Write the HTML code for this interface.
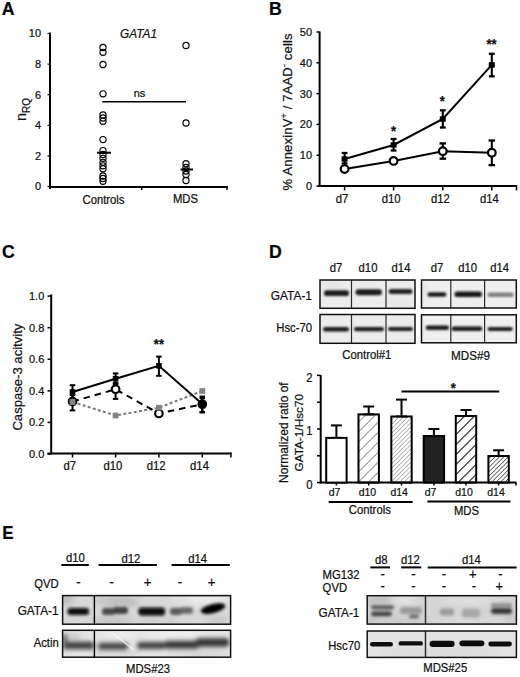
<!DOCTYPE html>
<html><head><meta charset="utf-8"><title>Figure</title>
<style>
html,body{margin:0;padding:0;background:#fff;}
body{width:520px;height:677px;overflow:hidden;}
svg{display:block;font-family:"Liberation Sans", sans-serif;}
text{stroke:#111;stroke-width:0.22px;}
</style></head>
<body>
<svg width="520" height="677" viewBox="0 0 520 677" font-family='"Liberation Sans", sans-serif'>
<rect x="0" y="0" width="520" height="677" fill="#fff"/>
<text transform="translate(1.7 14.6) scale(1 1)" font-size="17.7" text-anchor="start" font-weight="bold" font-style="normal" fill="#000" >A</text>
<line x1="50" y1="32.5" x2="50" y2="189" stroke="#000" stroke-width="2" />
<line x1="49" y1="187" x2="227.5" y2="187" stroke="#000" stroke-width="2" />
<line x1="47.5" y1="186.5" x2="50" y2="186.5" stroke="#000" stroke-width="1.2" />
<text transform="translate(41 190.4) scale(1 1.07)" font-size="11" text-anchor="end" font-weight="normal" font-style="normal" fill="#111" >0</text>
<line x1="47.5" y1="155.9" x2="50" y2="155.9" stroke="#000" stroke-width="1.2" />
<text transform="translate(41 159.8) scale(1 1.07)" font-size="11" text-anchor="end" font-weight="normal" font-style="normal" fill="#111" >2</text>
<line x1="47.5" y1="125.3" x2="50" y2="125.3" stroke="#000" stroke-width="1.2" />
<text transform="translate(41 129.2) scale(1 1.07)" font-size="11" text-anchor="end" font-weight="normal" font-style="normal" fill="#111" >4</text>
<line x1="47.5" y1="94.69999999999999" x2="50" y2="94.69999999999999" stroke="#000" stroke-width="1.2" />
<text transform="translate(41 98.6) scale(1 1.07)" font-size="11" text-anchor="end" font-weight="normal" font-style="normal" fill="#111" >6</text>
<line x1="47.5" y1="64.1" x2="50" y2="64.1" stroke="#000" stroke-width="1.2" />
<text transform="translate(41 68.0) scale(1 1.07)" font-size="11" text-anchor="end" font-weight="normal" font-style="normal" fill="#111" >8</text>
<line x1="47.5" y1="33.5" x2="50" y2="33.5" stroke="#000" stroke-width="1.2" />
<text transform="translate(41 37.4) scale(1 1.07)" font-size="11" text-anchor="end" font-weight="normal" font-style="normal" fill="#111" >10</text>
<line x1="141.75" y1="186" x2="141.75" y2="190" stroke="#000" stroke-width="1.5" />
<line x1="227" y1="186" x2="227" y2="190" stroke="#000" stroke-width="1.5" />
<text transform="translate(138.5 37.8) scale(1 1.07)" font-size="11.8" text-anchor="middle" font-weight="normal" font-style="italic" fill="#111" >GATA1</text>
<g transform="translate(26.2,121) rotate(-90)"><text x="0" y="0" font-size="14.5" fill="#111">n<tspan font-size="10" dy="3.5">RQ</tspan></text></g>
<circle cx="103" cy="47.5" r="3.1" fill="none" stroke="#000" stroke-width="1.15"/>
<circle cx="103" cy="52.3" r="3.1" fill="none" stroke="#000" stroke-width="1.15"/>
<circle cx="103" cy="64.5" r="3.1" fill="none" stroke="#000" stroke-width="1.15"/>
<circle cx="103" cy="93.8" r="3.1" fill="none" stroke="#000" stroke-width="1.15"/>
<circle cx="103" cy="115" r="3.1" fill="none" stroke="#000" stroke-width="1.15"/>
<circle cx="103" cy="118" r="3.1" fill="none" stroke="#000" stroke-width="1.15"/>
<circle cx="103" cy="121.3" r="3.1" fill="none" stroke="#000" stroke-width="1.15"/>
<circle cx="103" cy="139.6" r="3.1" fill="none" stroke="#000" stroke-width="1.15"/>
<circle cx="103" cy="150.6" r="3.1" fill="none" stroke="#000" stroke-width="1.15"/>
<circle cx="103" cy="154.5" r="3.1" fill="none" stroke="#000" stroke-width="1.15"/>
<circle cx="103" cy="158.3" r="3.1" fill="none" stroke="#000" stroke-width="1.15"/>
<circle cx="103" cy="162.3" r="3.1" fill="none" stroke="#000" stroke-width="1.15"/>
<circle cx="103" cy="165.8" r="3.1" fill="none" stroke="#000" stroke-width="1.15"/>
<circle cx="103" cy="168.8" r="3.1" fill="none" stroke="#000" stroke-width="1.15"/>
<circle cx="103" cy="176" r="3.1" fill="none" stroke="#000" stroke-width="1.15"/>
<circle cx="103" cy="178.5" r="3.1" fill="none" stroke="#000" stroke-width="1.15"/>
<circle cx="103" cy="181.3" r="3.1" fill="none" stroke="#000" stroke-width="1.15"/>
<circle cx="186" cy="45.5" r="3.1" fill="none" stroke="#000" stroke-width="1.15"/>
<circle cx="186" cy="123" r="3.1" fill="none" stroke="#000" stroke-width="1.15"/>
<circle cx="186" cy="163.75" r="3.1" fill="none" stroke="#000" stroke-width="1.15"/>
<circle cx="186" cy="167.5" r="3.1" fill="none" stroke="#000" stroke-width="1.15"/>
<circle cx="186" cy="171" r="3.1" fill="none" stroke="#000" stroke-width="1.15"/>
<circle cx="186" cy="174.5" r="3.1" fill="none" stroke="#000" stroke-width="1.15"/>
<circle cx="186" cy="180.5" r="3.1" fill="none" stroke="#000" stroke-width="1.15"/>
<line x1="97" y1="152.7" x2="111" y2="152.7" stroke="#000" stroke-width="2" />
<line x1="180.5" y1="169.5" x2="193" y2="169.5" stroke="#000" stroke-width="2" />
<line x1="102.3" y1="101.8" x2="186" y2="101.8" stroke="#000" stroke-width="1.6" />
<text transform="translate(139.5 97) scale(1 1.07)" font-size="11" text-anchor="middle" font-weight="normal" font-style="normal" fill="#111" >ns</text>
<text transform="translate(103.5 203.5) scale(1 1.07)" font-size="11.3" text-anchor="middle" font-weight="normal" font-style="normal" fill="#111" >Controls</text>
<text transform="translate(185.5 203.3) scale(1 1.07)" font-size="11.3" text-anchor="middle" font-weight="normal" font-style="normal" fill="#111" >MDS</text>
<text transform="translate(269.1 14.6) scale(1 1)" font-size="17.7" text-anchor="start" font-weight="bold" font-style="normal" fill="#000" >B</text>
<line x1="319.6" y1="31.5" x2="319.6" y2="187" stroke="#000" stroke-width="2" />
<line x1="318.6" y1="186" x2="517" y2="186" stroke="#000" stroke-width="2" />
<line x1="316.5" y1="186.0" x2="319.6" y2="186.0" stroke="#000" stroke-width="1.5" />
<text transform="translate(312 189.9) scale(1 1.07)" font-size="11" text-anchor="end" font-weight="normal" font-style="normal" fill="#111" >0</text>
<line x1="316.5" y1="155.2" x2="319.6" y2="155.2" stroke="#000" stroke-width="1.5" />
<text transform="translate(312 159.1) scale(1 1.07)" font-size="11" text-anchor="end" font-weight="normal" font-style="normal" fill="#111" >10</text>
<line x1="316.5" y1="124.4" x2="319.6" y2="124.4" stroke="#000" stroke-width="1.5" />
<text transform="translate(312 128.3) scale(1 1.07)" font-size="11" text-anchor="end" font-weight="normal" font-style="normal" fill="#111" >20</text>
<line x1="316.5" y1="93.6" x2="319.6" y2="93.6" stroke="#000" stroke-width="1.5" />
<text transform="translate(312 97.5) scale(1 1.07)" font-size="11" text-anchor="end" font-weight="normal" font-style="normal" fill="#111" >30</text>
<line x1="316.5" y1="62.8" x2="319.6" y2="62.8" stroke="#000" stroke-width="1.5" />
<text transform="translate(312 66.7) scale(1 1.07)" font-size="11" text-anchor="end" font-weight="normal" font-style="normal" fill="#111" >40</text>
<line x1="316.5" y1="32.0" x2="319.6" y2="32.0" stroke="#000" stroke-width="1.5" />
<text transform="translate(312 35.9) scale(1 1.07)" font-size="11" text-anchor="end" font-weight="normal" font-style="normal" fill="#111" >50</text>
<line x1="344.6" y1="185" x2="344.6" y2="190.5" stroke="#000" stroke-width="1.5" />
<line x1="393.6" y1="185" x2="393.6" y2="190.5" stroke="#000" stroke-width="1.5" />
<line x1="442.8" y1="185" x2="442.8" y2="190.5" stroke="#000" stroke-width="1.5" />
<line x1="491.8" y1="185" x2="491.8" y2="190.5" stroke="#000" stroke-width="1.5" />
<line x1="516.5" y1="185" x2="516.5" y2="190.5" stroke="#000" stroke-width="1.5" />
<text transform="translate(342.1 202.5) scale(1 1.07)" font-size="11.3" text-anchor="middle" font-weight="normal" font-style="normal" fill="#111" >d7</text>
<text transform="translate(391.1 202.5) scale(1 1.07)" font-size="11.3" text-anchor="middle" font-weight="normal" font-style="normal" fill="#111" >d10</text>
<text transform="translate(440.3 202.5) scale(1 1.07)" font-size="11.3" text-anchor="middle" font-weight="normal" font-style="normal" fill="#111" >d12</text>
<text transform="translate(489.3 202.5) scale(1 1.07)" font-size="11.3" text-anchor="middle" font-weight="normal" font-style="normal" fill="#111" >d14</text>
<g transform="translate(292,190.4) rotate(-90)"><text x="0" y="0" font-size="13" fill="#111" textLength="157" lengthAdjust="spacing">% AnnexinV<tspan font-size="8.8" dy="-4.7">+</tspan><tspan dy="4.7"> / 7AAD</tspan><tspan font-size="8.8" dy="-4.7">-</tspan><tspan dy="4.7"> cells</tspan></text></g>
<polyline points="344.6,159 393.6,145 442.8,119 491.8,64.9" fill="none" stroke="#000" stroke-width="2"/>
<polyline points="344.6,169.1 393.6,160.9 442.8,151.2 491.8,152.8" fill="none" stroke="#000" stroke-width="2"/>
<line x1="344.6" y1="153" x2="344.6" y2="163.5" stroke="#000" stroke-width="2.1" />
<line x1="341.70000000000005" y1="153" x2="347.5" y2="153" stroke="#000" stroke-width="2.3" />
<line x1="341.70000000000005" y1="163.5" x2="347.5" y2="163.5" stroke="#000" stroke-width="2.3" />
<line x1="393.6" y1="139" x2="393.6" y2="150.5" stroke="#000" stroke-width="2.1" />
<line x1="390.70000000000005" y1="139" x2="396.5" y2="139" stroke="#000" stroke-width="2.3" />
<line x1="390.70000000000005" y1="150.5" x2="396.5" y2="150.5" stroke="#000" stroke-width="2.3" />
<line x1="442.8" y1="110.3" x2="442.8" y2="127.5" stroke="#000" stroke-width="2.1" />
<line x1="439.90000000000003" y1="110.3" x2="445.7" y2="110.3" stroke="#000" stroke-width="2.3" />
<line x1="439.90000000000003" y1="127.5" x2="445.7" y2="127.5" stroke="#000" stroke-width="2.3" />
<line x1="491.8" y1="53.8" x2="491.8" y2="76.3" stroke="#000" stroke-width="2.1" />
<line x1="488.90000000000003" y1="53.8" x2="494.7" y2="53.8" stroke="#000" stroke-width="2.3" />
<line x1="488.90000000000003" y1="76.3" x2="494.7" y2="76.3" stroke="#000" stroke-width="2.3" />
<line x1="442.8" y1="143.4" x2="442.8" y2="158.7" stroke="#000" stroke-width="2.1" />
<line x1="439.55" y1="143.4" x2="446.05" y2="143.4" stroke="#000" stroke-width="2.3" />
<line x1="439.55" y1="158.7" x2="446.05" y2="158.7" stroke="#000" stroke-width="2.3" />
<line x1="491.8" y1="140.5" x2="491.8" y2="165.1" stroke="#000" stroke-width="2.1" />
<line x1="488.55" y1="140.5" x2="495.05" y2="140.5" stroke="#000" stroke-width="2.3" />
<line x1="488.55" y1="165.1" x2="495.05" y2="165.1" stroke="#000" stroke-width="2.3" />
<rect x="341.6" y="156.3" width="6" height="5.4" fill="#000" stroke="none" stroke-width="0" />
<rect x="390.6" y="142.3" width="6" height="5.4" fill="#000" stroke="none" stroke-width="0" />
<rect x="439.8" y="116.3" width="6" height="5.4" fill="#000" stroke="none" stroke-width="0" />
<rect x="488.8" y="62.2" width="6" height="5.4" fill="#000" stroke="none" stroke-width="0" />
<circle cx="344.6" cy="169.1" r="3.85" fill="#fff" stroke="#000" stroke-width="2.2"/>
<circle cx="393.6" cy="160.9" r="3.85" fill="#fff" stroke="#000" stroke-width="2.2"/>
<circle cx="442.8" cy="151.2" r="3.85" fill="#fff" stroke="#000" stroke-width="2.2"/>
<circle cx="491.8" cy="152.8" r="3.85" fill="#fff" stroke="#000" stroke-width="2.2"/>
<text transform="translate(393.5 136.28) scale(1 1.07)" font-size="13" text-anchor="middle" font-weight="bold" font-style="normal" fill="#111" >*</text>
<text transform="translate(442.3 105.68) scale(1 1.07)" font-size="13" text-anchor="middle" font-weight="bold" font-style="normal" fill="#111" >*</text>
<text transform="translate(491.5 48.88) scale(1 1.07)" font-size="13" text-anchor="middle" font-weight="bold" font-style="normal" fill="#111" >**</text>
<text transform="translate(1.9 258.3) scale(1 1)" font-size="17.7" text-anchor="start" font-weight="bold" font-style="normal" fill="#000" >C</text>
<line x1="51.2" y1="294.5" x2="51.2" y2="454.5" stroke="#000" stroke-width="2" />
<line x1="47.5" y1="453.4" x2="231.5" y2="453.4" stroke="#000" stroke-width="2" />
<line x1="47.5" y1="454.0" x2="51.2" y2="454.0" stroke="#000" stroke-width="1.5" />
<text transform="translate(44.3 457.9) scale(1 1.07)" font-size="11" text-anchor="end" font-weight="normal" font-style="normal" fill="#111" >0.0</text>
<line x1="47.5" y1="422.42" x2="51.2" y2="422.42" stroke="#000" stroke-width="1.5" />
<text transform="translate(44.3 426.32) scale(1 1.07)" font-size="11" text-anchor="end" font-weight="normal" font-style="normal" fill="#111" >0.2</text>
<line x1="47.5" y1="390.84" x2="51.2" y2="390.84" stroke="#000" stroke-width="1.5" />
<text transform="translate(44.3 394.73999999999995) scale(1 1.07)" font-size="11" text-anchor="end" font-weight="normal" font-style="normal" fill="#111" >0.4</text>
<line x1="47.5" y1="359.26" x2="51.2" y2="359.26" stroke="#000" stroke-width="1.5" />
<text transform="translate(44.3 363.15999999999997) scale(1 1.07)" font-size="11" text-anchor="end" font-weight="normal" font-style="normal" fill="#111" >0.6</text>
<line x1="47.5" y1="327.68" x2="51.2" y2="327.68" stroke="#000" stroke-width="1.5" />
<text transform="translate(44.3 331.58) scale(1 1.07)" font-size="11" text-anchor="end" font-weight="normal" font-style="normal" fill="#111" >0.8</text>
<line x1="47.5" y1="296.1" x2="51.2" y2="296.1" stroke="#000" stroke-width="1.5" />
<text transform="translate(44.3 300.0) scale(1 1.07)" font-size="11" text-anchor="end" font-weight="normal" font-style="normal" fill="#111" >1.0</text>
<line x1="72.5" y1="452.5" x2="72.5" y2="457.5" stroke="#000" stroke-width="1.5" />
<line x1="115.6" y1="452.5" x2="115.6" y2="457.5" stroke="#000" stroke-width="1.5" />
<line x1="158.9" y1="452.5" x2="158.9" y2="457.5" stroke="#000" stroke-width="1.5" />
<line x1="202.3" y1="452.5" x2="202.3" y2="457.5" stroke="#000" stroke-width="1.5" />
<line x1="230.9" y1="452.5" x2="230.9" y2="457.5" stroke="#000" stroke-width="1.5" />
<text transform="translate(69.7 470.2) scale(1 1.07)" font-size="11.3" text-anchor="middle" font-weight="normal" font-style="normal" fill="#111" >d7</text>
<text transform="translate(112.8 470.2) scale(1 1.07)" font-size="11.3" text-anchor="middle" font-weight="normal" font-style="normal" fill="#111" >d10</text>
<text transform="translate(156.1 470.2) scale(1 1.07)" font-size="11.3" text-anchor="middle" font-weight="normal" font-style="normal" fill="#111" >d12</text>
<text transform="translate(199.5 470.2) scale(1 1.07)" font-size="11.3" text-anchor="middle" font-weight="normal" font-style="normal" fill="#111" >d14</text>
<g transform="translate(21.6,430.6) rotate(-90)"><text x="0" y="0" font-size="13.3" fill="#111" textLength="107" lengthAdjust="spacingAndGlyphs">Caspase-3 acitvity</text></g>
<polyline points="72.5,402 115.6,415.5 158.9,407.7 202.3,391" fill="none" stroke="#777" stroke-width="2" stroke-dasharray="3 2.3"/>
<polyline points="72.5,401.5 115.6,389.3 158.9,413.5 202.3,404.2" fill="none" stroke="#000" stroke-width="2" stroke-dasharray="6.5 5"/>
<polyline points="72.5,392 115.6,378.7 158.9,365.8 202.3,404" fill="none" stroke="#000" stroke-width="2"/>
<line x1="72.5" y1="385.2" x2="72.5" y2="399" stroke="#000" stroke-width="2" />
<line x1="69.75" y1="385.2" x2="75.25" y2="385.2" stroke="#000" stroke-width="2" />
<line x1="69.75" y1="399" x2="75.25" y2="399" stroke="#000" stroke-width="2" />
<line x1="115.6" y1="373.4" x2="115.6" y2="384" stroke="#000" stroke-width="2" />
<line x1="112.85" y1="373.4" x2="118.35" y2="373.4" stroke="#000" stroke-width="2" />
<line x1="112.85" y1="384" x2="118.35" y2="384" stroke="#000" stroke-width="2" />
<line x1="158.9" y1="356.6" x2="158.9" y2="375.8" stroke="#000" stroke-width="2" />
<line x1="156.15" y1="356.6" x2="161.65" y2="356.6" stroke="#000" stroke-width="2" />
<line x1="156.15" y1="375.8" x2="161.65" y2="375.8" stroke="#000" stroke-width="2" />
<line x1="202.3" y1="396.5" x2="202.3" y2="412" stroke="#000" stroke-width="2" />
<line x1="199.55" y1="396.5" x2="205.05" y2="396.5" stroke="#000" stroke-width="2" />
<line x1="199.55" y1="412" x2="205.05" y2="412" stroke="#000" stroke-width="2" />
<line x1="72.5" y1="395" x2="72.5" y2="410.4" stroke="#000" stroke-width="2" />
<line x1="69.75" y1="395" x2="75.25" y2="395" stroke="#000" stroke-width="2" />
<line x1="69.75" y1="410.4" x2="75.25" y2="410.4" stroke="#000" stroke-width="2" />
<line x1="115.6" y1="383" x2="115.6" y2="398.9" stroke="#000" stroke-width="2" />
<line x1="112.85" y1="383" x2="118.35" y2="383" stroke="#000" stroke-width="2" />
<line x1="112.85" y1="398.9" x2="118.35" y2="398.9" stroke="#000" stroke-width="2" />
<line x1="202.3" y1="398" x2="202.3" y2="412.5" stroke="#000" stroke-width="2" />
<line x1="199.55" y1="398" x2="205.05" y2="398" stroke="#000" stroke-width="2" />
<line x1="199.55" y1="412.5" x2="205.05" y2="412.5" stroke="#000" stroke-width="2" />
<rect x="69.7" y="389.2" width="5.6" height="5.6" fill="#000" stroke="none" stroke-width="0" />
<rect x="112.8" y="375.9" width="5.6" height="5.6" fill="#000" stroke="none" stroke-width="0" />
<rect x="156.1" y="363.0" width="5.6" height="5.6" fill="#000" stroke="none" stroke-width="0" />
<rect x="199.5" y="401.2" width="5.6" height="5.6" fill="#000" stroke="none" stroke-width="0" />
<circle cx="72.5" cy="401.5" r="3.8" fill="#8a8a8a" stroke="#000" stroke-width="2.1"/>
<circle cx="115.6" cy="389.3" r="3.8" fill="#fff" stroke="#000" stroke-width="2.1"/>
<circle cx="158.9" cy="413.5" r="3.8" fill="#fff" stroke="#000" stroke-width="2.1"/>
<circle cx="202.3" cy="404.2" r="3.8" fill="#000" stroke="#000" stroke-width="2.1"/>
<rect x="69.6" y="399.1" width="5.8" height="5.8" fill="#848484" stroke="none" stroke-width="0" />
<rect x="112.69999999999999" y="412.6" width="5.8" height="5.8" fill="#848484" stroke="none" stroke-width="0" />
<rect x="156.0" y="404.8" width="5.8" height="5.8" fill="#848484" stroke="none" stroke-width="0" />
<rect x="199.4" y="388.1" width="5.8" height="5.8" fill="#848484" stroke="none" stroke-width="0" />
<text transform="translate(158.9 349.38) scale(1 1.07)" font-size="13" text-anchor="middle" font-weight="bold" font-style="normal" fill="#111" >**</text>
<text transform="translate(269.1 258.1) scale(1 1)" font-size="17.7" text-anchor="start" font-weight="bold" font-style="normal" fill="#000" >D</text>
<defs>
<filter id="b5" x="-20%" y="-50%" width="140%" height="200%"><feGaussianBlur stdDeviation="0.5"/></filter>
<filter id="b7" x="-20%" y="-50%" width="140%" height="200%"><feGaussianBlur stdDeviation="0.7"/></filter>
<filter id="b10" x="-20%" y="-50%" width="140%" height="200%"><feGaussianBlur stdDeviation="1.0"/></filter>
<filter id="b9" x="-20%" y="-50%" width="140%" height="200%"><feGaussianBlur stdDeviation="0.9"/></filter>
<filter id="b15" x="-20%" y="-50%" width="140%" height="200%"><feGaussianBlur stdDeviation="1.5"/></filter>
<filter id="b18" x="-20%" y="-50%" width="140%" height="200%"><feGaussianBlur stdDeviation="1.8"/></filter>
<filter id="b20" x="-20%" y="-50%" width="140%" height="200%"><feGaussianBlur stdDeviation="2.0"/></filter>
<filter id="bb" x="-50%" y="-50%" width="200%" height="200%"><feGaussianBlur stdDeviation="3"/></filter>
</defs>
<clipPath id="cl1"><rect x="320" y="280" width="95" height="28.3"/></clipPath>
<g clip-path="url(#cl1)">
<rect x="318" y="278" width="99" height="32.3" fill="#ececec" stroke="none" stroke-width="0" />
<g filter="url(#bb)">
<ellipse cx="330" cy="284" rx="10" ry="3" fill="#e2e2e2" opacity="1"/>
<ellipse cx="400" cy="304" rx="14" ry="3" fill="#e4e4e4" opacity="1"/>
</g>
<g filter="url(#b10)">
<rect x="324" y="290.3" width="25" height="5.8" rx="2.9" fill="#1c1c1c"/>
<rect x="355.5" y="289.2" width="26.5" height="6" rx="3.0" fill="#1c1c1c"/>
<rect x="388.6" y="288.9" width="23.899999999999977" height="5" rx="2.5" fill="#222"/>
</g></g>
<line x1="351.5" y1="280" x2="351.5" y2="308.3" stroke="#2a2a2a" stroke-width="1.2" />
<line x1="386" y1="280" x2="386" y2="308.3" stroke="#2a2a2a" stroke-width="1.2" />
<rect x="320" y="280" width="95" height="28.3" fill="none" stroke="#111" stroke-width="1.5" />
<clipPath id="cl2"><rect x="320" y="314.5" width="95" height="28.8"/></clipPath>
<g clip-path="url(#cl2)">
<rect x="318" y="312.5" width="99" height="32.8" fill="#ececec" stroke="none" stroke-width="0" />
<g filter="url(#b9)">
<rect x="323" y="327.1" width="26" height="4.4" rx="2.2" fill="#1a1a1a"/>
<rect x="354" y="327.05" width="30" height="4.3" rx="2.15" fill="#1a1a1a"/>
<rect x="388" y="326.95" width="25" height="4.1" rx="2.05" fill="#1e1e1e"/>
</g></g>
<line x1="351.5" y1="314.5" x2="351.5" y2="343.3" stroke="#2a2a2a" stroke-width="1.2" />
<line x1="386" y1="314.5" x2="386" y2="343.3" stroke="#2a2a2a" stroke-width="1.2" />
<rect x="320" y="314.5" width="95" height="28.8" fill="none" stroke="#111" stroke-width="1.5" />
<clipPath id="cl3"><rect x="421.5" y="280" width="94.8" height="28"/></clipPath>
<g clip-path="url(#cl3)">
<rect x="419.5" y="278" width="98.8" height="32" fill="#efefef" stroke="none" stroke-width="0" />
<g filter="url(#bb)">
<ellipse cx="424" cy="290" rx="3" ry="8" fill="#dedede" opacity="1"/>
</g>
<g filter="url(#b10)">
<rect x="427.5" y="292.15" width="18.899999999999977" height="4.7" rx="2.35" fill="#1a1a1a"/>
<rect x="454.5" y="291.4" width="27.5" height="5.6" rx="2.8" fill="#141414"/>
<rect x="487.4" y="292.6" width="26.399999999999977" height="4.4" rx="2.2" fill="#808080"/>
</g></g>
<line x1="450.8" y1="280" x2="450.8" y2="308" stroke="#2a2a2a" stroke-width="1.2" />
<line x1="484.6" y1="280" x2="484.6" y2="308" stroke="#2a2a2a" stroke-width="1.2" />
<rect x="421.5" y="280" width="94.8" height="28" fill="none" stroke="#111" stroke-width="1.5" />
<clipPath id="cl4"><rect x="421.5" y="314.8" width="94.8" height="28"/></clipPath>
<g clip-path="url(#cl4)">
<rect x="419.5" y="312.8" width="98.8" height="32" fill="#efefef" stroke="none" stroke-width="0" />
<g filter="url(#b9)">
<rect x="425.7" y="325.5" width="23.30000000000001" height="4.4" rx="2.2" fill="#1a1a1a"/>
<rect x="451.5" y="326.5" width="30.80000000000001" height="4.4" rx="2.2" fill="#1a1a1a"/>
<rect x="487.5" y="326.9" width="25.299999999999955" height="4.2" rx="2.1" fill="#1e1e1e"/>
</g></g>
<line x1="450.8" y1="314.8" x2="450.8" y2="342.8" stroke="#2a2a2a" stroke-width="1.2" />
<line x1="484.6" y1="314.8" x2="484.6" y2="342.8" stroke="#2a2a2a" stroke-width="1.2" />
<rect x="421.5" y="314.8" width="94.8" height="28" fill="none" stroke="#111" stroke-width="1.5" />
<text transform="translate(336 271.5) scale(1 1.07)" font-size="11.3" text-anchor="middle" font-weight="normal" font-style="normal" fill="#111" >d7</text>
<text transform="translate(368 271.5) scale(1 1.07)" font-size="11.3" text-anchor="middle" font-weight="normal" font-style="normal" fill="#111" >d10</text>
<text transform="translate(401 271.5) scale(1 1.07)" font-size="11.3" text-anchor="middle" font-weight="normal" font-style="normal" fill="#111" >d14</text>
<text transform="translate(437 271.5) scale(1 1.07)" font-size="11.3" text-anchor="middle" font-weight="normal" font-style="normal" fill="#111" >d7</text>
<text transform="translate(467.7 271.5) scale(1 1.07)" font-size="11.3" text-anchor="middle" font-weight="normal" font-style="normal" fill="#111" >d10</text>
<text transform="translate(499.6 271.5) scale(1 1.07)" font-size="11.3" text-anchor="middle" font-weight="normal" font-style="normal" fill="#111" >d14</text>
<text transform="translate(270.8 300) scale(1 1.07)" font-size="11.9" text-anchor="start" font-weight="normal" font-style="normal" fill="#111" >GATA-1</text>
<text transform="translate(276.3 332) scale(1 1.07)" font-size="11.3" text-anchor="start" font-weight="normal" font-style="normal" fill="#111" >Hsc-70</text>
<text transform="translate(366.8 359) scale(1 1.07)" font-size="11.3" text-anchor="middle" font-weight="normal" font-style="normal" fill="#111" >Control#1</text>
<text transform="translate(470.6 360.3) scale(1 1.07)" font-size="11.7" text-anchor="middle" font-weight="normal" font-style="normal" fill="#111" >MDS#9</text>
<line x1="320.7" y1="375" x2="320.7" y2="483.5" stroke="#000" stroke-width="2" />
<line x1="319.7" y1="482.6" x2="516" y2="482.6" stroke="#000" stroke-width="2" />
<line x1="317" y1="482.6" x2="320.7" y2="482.6" stroke="#000" stroke-width="1.5" />
<text transform="translate(312.5 488.90000000000003) scale(1 1.07)" font-size="11.3" text-anchor="end" font-weight="normal" font-style="normal" fill="#111" >0</text>
<line x1="317" y1="455.8" x2="320.7" y2="455.8" stroke="#000" stroke-width="1.5" />
<line x1="317" y1="429.0" x2="320.7" y2="429.0" stroke="#000" stroke-width="1.5" />
<text transform="translate(312.5 435.3) scale(1 1.07)" font-size="11.3" text-anchor="end" font-weight="normal" font-style="normal" fill="#111" >1</text>
<line x1="317" y1="402.20000000000005" x2="320.7" y2="402.20000000000005" stroke="#000" stroke-width="1.5" />
<line x1="317" y1="375.40000000000003" x2="320.7" y2="375.40000000000003" stroke="#000" stroke-width="1.5" />
<text transform="translate(312.5 381.70000000000005) scale(1 1.07)" font-size="11.3" text-anchor="end" font-weight="normal" font-style="normal" fill="#111" >2</text>
<g transform="translate(288.4,483) rotate(-90)"><text x="0" y="0" font-size="12" fill="#111">Normalized ratio of</text></g>
<g transform="translate(303.1,471.5) rotate(-90)"><text x="0" y="0" font-size="11.8" fill="#111">GATA-1/Hsc70</text></g>
<defs>
<pattern id="hw" patternUnits="userSpaceOnUse" width="7.07" height="7.07" patternTransform="rotate(45)"><line x1="0" y1="0" x2="0" y2="7.07" stroke="#7a7a7a" stroke-width="1.7"/></pattern>
<pattern id="hf" patternUnits="userSpaceOnUse" width="3.1" height="3.1" patternTransform="rotate(45)"><line x1="0" y1="0" x2="0" y2="3.1" stroke="#8a8a8a" stroke-width="1.2"/></pattern>
<pattern id="bw" patternUnits="userSpaceOnUse" width="7.07" height="7.07" patternTransform="rotate(45)"><line x1="0" y1="0" x2="0" y2="7.07" stroke="#000" stroke-width="2"/></pattern>
<pattern id="bf" patternUnits="userSpaceOnUse" width="3.1" height="3.1" patternTransform="rotate(45)"><line x1="0" y1="0" x2="0" y2="3.1" stroke="#222" stroke-width="1.25"/></pattern>
</defs>
<line x1="336.4" y1="425.4" x2="336.4" y2="437.9" stroke="#000" stroke-width="2" />
<line x1="330.9" y1="425.4" x2="341.9" y2="425.4" stroke="#000" stroke-width="2" />
<line x1="330.9" y1="437.9" x2="341.9" y2="437.9" stroke="#000" stroke-width="2" />
<rect x="326.2" y="437.9" width="20.4" height="44.700000000000045" fill="#fff" stroke="#000" stroke-width="2" />
<line x1="368.7" y1="406.5" x2="368.7" y2="414.4" stroke="#000" stroke-width="2" />
<line x1="363.2" y1="406.5" x2="374.2" y2="406.5" stroke="#000" stroke-width="2" />
<line x1="363.2" y1="414.4" x2="374.2" y2="414.4" stroke="#000" stroke-width="2" />
<rect x="358.5" y="414.4" width="20.4" height="68.20000000000005" fill="url(#hw)" stroke="#000" stroke-width="2" />
<line x1="401.5" y1="399.6" x2="401.5" y2="416.5" stroke="#000" stroke-width="2" />
<line x1="396.0" y1="399.6" x2="407.0" y2="399.6" stroke="#000" stroke-width="2" />
<line x1="396.0" y1="416.5" x2="407.0" y2="416.5" stroke="#000" stroke-width="2" />
<rect x="391.3" y="416.5" width="20.4" height="66.10000000000002" fill="url(#hf)" stroke="#000" stroke-width="2" />
<line x1="433.9" y1="429" x2="433.9" y2="436" stroke="#000" stroke-width="2" />
<line x1="428.4" y1="429" x2="439.4" y2="429" stroke="#000" stroke-width="2" />
<line x1="428.4" y1="436" x2="439.4" y2="436" stroke="#000" stroke-width="2" />
<rect x="423.7" y="436" width="20.4" height="46.60000000000002" fill="#222" stroke="#000" stroke-width="2" />
<line x1="466" y1="410" x2="466" y2="416" stroke="#000" stroke-width="2" />
<line x1="460.5" y1="410" x2="471.5" y2="410" stroke="#000" stroke-width="2" />
<line x1="460.5" y1="416" x2="471.5" y2="416" stroke="#000" stroke-width="2" />
<rect x="455.8" y="416" width="20.4" height="66.60000000000002" fill="url(#bw)" stroke="#000" stroke-width="2" />
<line x1="498.6" y1="450.3" x2="498.6" y2="456" stroke="#000" stroke-width="2" />
<line x1="493.1" y1="450.3" x2="504.1" y2="450.3" stroke="#000" stroke-width="2" />
<line x1="493.1" y1="456" x2="504.1" y2="456" stroke="#000" stroke-width="2" />
<rect x="488.40000000000003" y="456" width="20.4" height="26.600000000000023" fill="url(#bf)" stroke="#000" stroke-width="2" />
<line x1="336.4" y1="482" x2="336.4" y2="485.5" stroke="#000" stroke-width="1.5" />
<line x1="368.7" y1="482" x2="368.7" y2="485.5" stroke="#000" stroke-width="1.5" />
<line x1="401.5" y1="482" x2="401.5" y2="485.5" stroke="#000" stroke-width="1.5" />
<line x1="433.9" y1="482" x2="433.9" y2="485.5" stroke="#000" stroke-width="1.5" />
<line x1="466" y1="482" x2="466" y2="485.5" stroke="#000" stroke-width="1.5" />
<line x1="498.6" y1="482" x2="498.6" y2="485.5" stroke="#000" stroke-width="1.5" />
<line x1="516" y1="482" x2="516" y2="485.5" stroke="#000" stroke-width="1.5" />
<text transform="translate(334.5 496.3) scale(1 1.07)" font-size="10.5" text-anchor="middle" font-weight="normal" font-style="normal" fill="#111" >d7</text>
<text transform="translate(367.4 496.3) scale(1 1.07)" font-size="10.5" text-anchor="middle" font-weight="normal" font-style="normal" fill="#111" >d10</text>
<text transform="translate(399.2 496.3) scale(1 1.07)" font-size="10.5" text-anchor="middle" font-weight="normal" font-style="normal" fill="#111" >d14</text>
<text transform="translate(430.5 496.3) scale(1 1.07)" font-size="10.5" text-anchor="middle" font-weight="normal" font-style="normal" fill="#111" >d7</text>
<text transform="translate(464 496.3) scale(1 1.07)" font-size="10.5" text-anchor="middle" font-weight="normal" font-style="normal" fill="#111" >d10</text>
<text transform="translate(496 496.3) scale(1 1.07)" font-size="10.5" text-anchor="middle" font-weight="normal" font-style="normal" fill="#111" >d14</text>
<line x1="401.5" y1="391.6" x2="499.3" y2="391.6" stroke="#000" stroke-width="2" />
<text transform="translate(453.3 392.88) scale(1 1.07)" font-size="13" text-anchor="middle" font-weight="bold" font-style="normal" fill="#111" >*</text>
<line x1="328.7" y1="501.9" x2="412.7" y2="501.9" stroke="#000" stroke-width="2" />
<line x1="427.3" y1="501.5" x2="510.4" y2="501.5" stroke="#000" stroke-width="2" />
<text transform="translate(369.8 514) scale(1 1.07)" font-size="11.3" text-anchor="middle" font-weight="normal" font-style="normal" fill="#111" >Controls</text>
<text transform="translate(466.5 514.5) scale(1 1.07)" font-size="11.3" text-anchor="middle" font-weight="normal" font-style="normal" fill="#111" >MDS</text>
<text transform="translate(2.3 538.9) scale(1 1.03)" font-size="17" text-anchor="start" font-weight="bold" font-style="normal" fill="#000" >E</text>
<line x1="61.3" y1="565" x2="88.8" y2="565" stroke="#000" stroke-width="2" />
<text transform="translate(75.4 562) scale(1 1.07)" font-size="11.3" text-anchor="middle" font-weight="normal" font-style="normal" fill="#111" >d10</text>
<line x1="98.6" y1="565.1" x2="156.9" y2="565.1" stroke="#000" stroke-width="2" />
<text transform="translate(130.8 562.5) scale(1 1.07)" font-size="11.3" text-anchor="middle" font-weight="normal" font-style="normal" fill="#111" >d12</text>
<line x1="171.6" y1="565.1" x2="229.8" y2="565.1" stroke="#000" stroke-width="2" />
<text transform="translate(197.7 562.5) scale(1 1.07)" font-size="11.3" text-anchor="middle" font-weight="normal" font-style="normal" fill="#111" >d14</text>
<text transform="translate(34.3 588.3) scale(1 1.07)" font-size="11.3" text-anchor="start" font-weight="normal" font-style="normal" fill="#111" >QVD</text>
<text transform="translate(78.3 586.8) scale(1 1.07)" font-size="13" text-anchor="middle" font-weight="normal" font-style="normal" fill="#111" >-</text>
<text transform="translate(111.6 586.8) scale(1 1.07)" font-size="13" text-anchor="middle" font-weight="normal" font-style="normal" fill="#111" >-</text>
<text transform="translate(147.6 586.8) scale(1 1.07)" font-size="13" text-anchor="middle" font-weight="normal" font-style="normal" fill="#111" >+</text>
<text transform="translate(179.9 586.8) scale(1 1.07)" font-size="13" text-anchor="middle" font-weight="normal" font-style="normal" fill="#111" >-</text>
<text transform="translate(211.6 586.8) scale(1 1.07)" font-size="13" text-anchor="middle" font-weight="normal" font-style="normal" fill="#111" >+</text>
<clipPath id="cl5"><rect x="62.6" y="595.6" width="168" height="28.6"/></clipPath>
<g clip-path="url(#cl5)">
<rect x="60.6" y="593.6" width="172" height="32.6" fill="#d8d8d8" stroke="none" stroke-width="0" />
<g filter="url(#bb)">
<ellipse cx="66" cy="599" rx="8" ry="6" fill="#bababa" opacity="1"/>
<ellipse cx="120" cy="602" rx="18" ry="6" fill="#bdbdbd" opacity="1"/>
<ellipse cx="112" cy="621" rx="22" ry="4" fill="#c2c2c2" opacity="1"/>
<ellipse cx="150" cy="621" rx="12" ry="3" fill="#c6c6c6" opacity="1"/>
<ellipse cx="205" cy="600" rx="25" ry="4" fill="#f0f0f0" opacity="1"/>
<ellipse cx="180" cy="600" rx="10" ry="3" fill="#e4e4e4" opacity="1"/>
<ellipse cx="218" cy="621" rx="12" ry="3" fill="#c0c0c0" opacity="1"/>
<ellipse cx="170" cy="621" rx="8" ry="3" fill="#cacaca" opacity="1"/>
<ellipse cx="100" cy="600" rx="6" ry="4" fill="#c4c4c4" opacity="1"/>
</g>
<g filter="url(#b18)">
<rect x="67.5" y="608.0" width="21.5" height="7" rx="3" fill="#080808"/>
<rect x="102" y="608.0" width="13" height="7" rx="3" fill="#4a4a4a"/>
<rect x="113" y="607.0" width="15" height="7" rx="3" fill="#404040"/>
<rect x="138.5" y="607.5" width="26.5" height="8" rx="3" fill="#080808"/>
<rect x="170" y="608.0" width="12" height="7" rx="3" fill="#5a5a5a"/>
<rect x="180" y="607.25" width="13" height="6.5" rx="3" fill="#666"/>
<ellipse cx="213" cy="608.6" rx="12.5" ry="4.6" transform="rotate(-14 213 608.6)" fill="#000"/>
</g></g>
<rect x="62.6" y="595.6" width="168" height="28.6" fill="none" stroke="#111" stroke-width="1.5" />
<clipPath id="cl6"><rect x="62.6" y="630.3" width="168" height="26.9"/></clipPath>
<g clip-path="url(#cl6)">
<rect x="60.6" y="628.3" width="172" height="30.9" fill="#e4e4e4" stroke="none" stroke-width="0" />
<g filter="url(#bb)">
<ellipse cx="72" cy="637" rx="10" ry="4" fill="#c8c8c8" opacity="1"/>
<ellipse cx="115" cy="653" rx="25" ry="3" fill="#d2d2d2" opacity="1"/>
<ellipse cx="200" cy="654" rx="30" ry="3" fill="#d0d0d0" opacity="1"/>
<ellipse cx="175" cy="634" rx="30" ry="3" fill="#f2f2f2" opacity="1"/>
<ellipse cx="120" cy="634" rx="18" ry="3" fill="#f0f0f0" opacity="1"/>
</g>
<g filter="url(#b20)">
<rect x="63" y="641.65" width="31" height="7.5" rx="3" fill="#3c3c3c"/>
<rect x="98" y="642.7" width="30" height="7" rx="3" fill="#444"/>
<rect x="137" y="642.1" width="29" height="7" rx="3" fill="#404040"/>
<rect x="165" y="640.8" width="34" height="8" rx="3" fill="#383838"/>
<rect x="196" y="638.25" width="33" height="8.5" rx="3" fill="#353535"/>
<rect x="63" y="634.0" width="4" height="12" rx="3" fill="#555"/>
</g></g>
<rect x="62.6" y="630.3" width="168" height="26.9" fill="none" stroke="#111" stroke-width="1.5" />
<line x1="112" y1="633" x2="134" y2="650" stroke="#fafafa" stroke-width="1.3" opacity="0.8"/>
<line x1="94.4" y1="595.6" x2="94.4" y2="624.2" stroke="#000" stroke-width="1.4" />
<line x1="94.4" y1="630.3" x2="94.4" y2="657.2" stroke="#000" stroke-width="1.4" />
<text transform="translate(17.7 614.5) scale(1 1.07)" font-size="11.8" text-anchor="start" font-weight="normal" font-style="normal" fill="#111" >GATA-1</text>
<text transform="translate(33.7 647) scale(1 1.07)" font-size="11.3" text-anchor="start" font-weight="normal" font-style="normal" fill="#111" >Actin</text>
<text transform="translate(148 672.7) scale(1 1.07)" font-size="11.3" text-anchor="middle" font-weight="normal" font-style="normal" fill="#111" >MDS#23</text>
<line x1="370.4" y1="567.4" x2="390" y2="567.4" stroke="#000" stroke-width="2" />
<text transform="translate(381.2 563.5) scale(1 1.07)" font-size="11.3" text-anchor="middle" font-weight="normal" font-style="normal" fill="#111" >d8</text>
<line x1="401.2" y1="567.4" x2="421.2" y2="567.4" stroke="#000" stroke-width="2" />
<text transform="translate(410.4 563.5) scale(1 1.07)" font-size="11.3" text-anchor="middle" font-weight="normal" font-style="normal" fill="#111" >d12</text>
<line x1="427.7" y1="567.4" x2="516.6" y2="567.4" stroke="#000" stroke-width="2" />
<text transform="translate(471.3 563.5) scale(1 1.07)" font-size="11.3" text-anchor="middle" font-weight="normal" font-style="normal" fill="#111" >d14</text>
<text transform="translate(322.6 578.5) scale(1 1.07)" font-size="11.3" text-anchor="start" font-weight="normal" font-style="normal" fill="#111" >MG132</text>
<text transform="translate(322.6 592.3) scale(1 1.07)" font-size="11.3" text-anchor="start" font-weight="normal" font-style="normal" fill="#111" >QVD</text>
<text transform="translate(382.7 578.8) scale(1 1.07)" font-size="13" text-anchor="middle" font-weight="normal" font-style="normal" fill="#111" >-</text>
<text transform="translate(413.4 578.8) scale(1 1.07)" font-size="13" text-anchor="middle" font-weight="normal" font-style="normal" fill="#111" >-</text>
<text transform="translate(443.9 578.8) scale(1 1.07)" font-size="13" text-anchor="middle" font-weight="normal" font-style="normal" fill="#111" >-</text>
<text transform="translate(472.7 578.8) scale(1 1.07)" font-size="13" text-anchor="middle" font-weight="normal" font-style="normal" fill="#111" >+</text>
<text transform="translate(500.5 578.8) scale(1 1.07)" font-size="13" text-anchor="middle" font-weight="normal" font-style="normal" fill="#111" >-</text>
<text transform="translate(382.7 591.3) scale(1 1.07)" font-size="13" text-anchor="middle" font-weight="normal" font-style="normal" fill="#111" >-</text>
<text transform="translate(413.4 591.3) scale(1 1.07)" font-size="13" text-anchor="middle" font-weight="normal" font-style="normal" fill="#111" >-</text>
<text transform="translate(443.9 591.3) scale(1 1.07)" font-size="13" text-anchor="middle" font-weight="normal" font-style="normal" fill="#111" >-</text>
<text transform="translate(473.9 591.3) scale(1 1.07)" font-size="13" text-anchor="middle" font-weight="normal" font-style="normal" fill="#111" >-</text>
<text transform="translate(499.3 591.3) scale(1 1.07)" font-size="13" text-anchor="middle" font-weight="normal" font-style="normal" fill="#111" >+</text>
<clipPath id="cl7"><rect x="367.2" y="595.7" width="149.2" height="28.4"/></clipPath>
<g clip-path="url(#cl7)">
<rect x="365.2" y="593.7" width="153.2" height="32.4" fill="#d4d4d4" stroke="none" stroke-width="0" />
<g filter="url(#bb)">
<ellipse cx="378" cy="600" rx="14" ry="4" fill="#bcbcbc" opacity="1"/>
<ellipse cx="372" cy="620" rx="8" ry="4" fill="#c4c4c4" opacity="1"/>
<ellipse cx="405" cy="600" rx="12" ry="4" fill="#e6e6e6" opacity="1"/>
<ellipse cx="470" cy="601" rx="30" ry="4" fill="#e0e0e0" opacity="1"/>
<ellipse cx="470" cy="621" rx="40" ry="3" fill="#dcdcdc" opacity="1"/>
<ellipse cx="400" cy="621" rx="25" ry="3" fill="#c8c8c8" opacity="1"/>
<ellipse cx="510" cy="618" rx="6" ry="6" fill="#c8c8c8" opacity="1"/>
</g>
<g filter="url(#b15)">
<rect x="371" y="605.1999999999999" width="23" height="4.2" rx="2.1" fill="#5a5a5a"/>
<rect x="371" y="611.4" width="21" height="4.8" rx="2.4" fill="#404040"/>
<rect x="400" y="607.0" width="22" height="7" rx="3" fill="#9a9a9a"/>
<rect x="409" y="614.75" width="10" height="3.5" rx="1.75" fill="#606060"/>
<rect x="440" y="608.5" width="14" height="7" rx="3" fill="#9a9a9a"/>
<rect x="462" y="608.5" width="18" height="9" rx="3" fill="#a8a8a8"/>
<rect x="491" y="608.0" width="21" height="6" rx="3.0" fill="#383838"/>
<rect x="491" y="603.2" width="21" height="4" rx="2.0" fill="#8a8a8a"/>
</g></g>
<line x1="425.5" y1="595.7" x2="425.5" y2="624.1" stroke="#2a2a2a" stroke-width="1.5" />
<rect x="367.2" y="595.7" width="149.2" height="28.4" fill="none" stroke="#111" stroke-width="1.5" />
<clipPath id="cl8"><rect x="367.2" y="631" width="149.2" height="26.4"/></clipPath>
<g clip-path="url(#cl8)">
<rect x="365.2" y="629" width="153.2" height="30.4" fill="#e3e3e3" stroke="none" stroke-width="0" />
<g filter="url(#bb)">
<ellipse cx="440" cy="652" rx="60" ry="3" fill="#d8d8d8" opacity="1"/>
</g>
<g filter="url(#b7)">
<rect x="370" y="641.9000000000001" width="23" height="4.6" rx="2.3" fill="#111"/>
<rect x="398.5" y="641.1999999999999" width="24.5" height="4.4" rx="2.2" fill="#111"/>
<rect x="429.6" y="640.65" width="25.0" height="6.3" rx="3" fill="#0a0a0a"/>
<rect x="459.4" y="640.4" width="25.0" height="5.8" rx="2.9" fill="#0a0a0a"/>
<rect x="488.3" y="641.6" width="23.599999999999966" height="4.8" rx="2.4" fill="#111"/>
</g></g>
<line x1="425.5" y1="631" x2="425.5" y2="657.4" stroke="#2a2a2a" stroke-width="1.5" />
<rect x="367.2" y="631" width="149.2" height="26.4" fill="none" stroke="#111" stroke-width="1.5" />
<text transform="translate(318.6 617.3) scale(1 1.07)" font-size="11.8" text-anchor="start" font-weight="normal" font-style="normal" fill="#111" >GATA-1</text>
<text transform="translate(328.2 650) scale(1 1.07)" font-size="11.3" text-anchor="start" font-weight="normal" font-style="normal" fill="#111" >Hsc70</text>
<text transform="translate(445.2 672.1) scale(1 1.07)" font-size="11.3" text-anchor="middle" font-weight="normal" font-style="normal" fill="#111" >MDS#25</text>
</svg>
</body></html>
